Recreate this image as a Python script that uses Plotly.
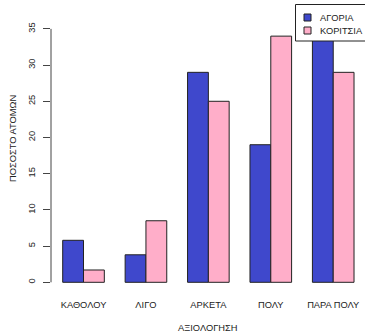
import plotly.graph_objects as go

categories = ["ΚΑΘΟΛΟΥ", "ΛΙΓΟ", "ΑΡΚΕΤΑ", "ΠΟΛΥ", "ΠΑΡΑ ΠΟΛΥ"]
boys = [5.8, 3.8, 29, 19, 36]
girls = [1.7, 8.5, 25, 34, 29]
series_names = ["ΑΓΟΡΙΑ", "ΚΟΡΙΤΣΙΑ"]
series_colors = ["#3f48cc", "#ffaec9"]
y_ticks = [0, 5, 10, 15, 20, 25, 30, 35]

FONT = "Liberation Sans, Arial, sans-serif"
FS = 9.3
INK = "#222222"

W, H = 365, 332
L, R, T, B = 51, 0, 0, 40
PW = W - L - R
PH = H - T - B


def px(x):
    return (x - L) / PW


def py(y):
    return 1 - (y - T) / PH


fig = go.Figure()
for name, vals, col in zip(series_names, [boys, girls], series_colors):
    fig.add_trace(go.Bar(x=categories, y=vals, name=name,
                         marker=dict(color=col, line=dict(color=INK, width=1))))

shapes = [dict(type="line", xref="paper", yref="y", x0=0, x1=0, y0=0, y1=35,
               line=dict(color="#444444", width=1))]
# legend box (drawn manually so it fits the narrow corner like the reference)
shapes.append(dict(type="rect", xref="paper", yref="paper", layer="above",
                   x0=px(295.5), x1=px(366), y0=py(41), y1=py(4.5),
                   fillcolor="white", line=dict(color=INK, width=1)))
annotations = []
for i, (name, col) in enumerate(zip(series_names, series_colors)):
    top = 14 + i * 13
    shapes.append(dict(type="rect", xref="paper", yref="paper", layer="above",
                       x0=px(304), x1=px(311), y0=py(top + 7), y1=py(top),
                       fillcolor=col, line=dict(color=INK, width=1)))
    annotations.append(dict(text=name, xref="paper", yref="paper",
                            x=px(318), y=py(top + 3.7), xanchor="left", yanchor="middle",
                            showarrow=False, font=dict(family=FONT, size=FS, color=INK)))

annotations += [
    dict(text="ΑΞΙΟΛΟΓΗΣΗ", xref="paper", yref="paper",
         x=px(207), y=py(328), xanchor="center", yanchor="middle",
         showarrow=False, font=dict(family=FONT, size=FS, color=INK)),
    dict(text="ΠΟΣΟΣΤΟ ΑΤΟΜΩΝ", xref="paper", yref="paper",
         x=px(13), y=py(139), xanchor="center", yanchor="middle",
         textangle=-90, showarrow=False, font=dict(family=FONT, size=FS, color=INK)),
]

fig.update_layout(
    width=W, height=H,
    margin=dict(l=L, r=R, t=T, b=B, pad=0, autoexpand=False),
    paper_bgcolor="white", plot_bgcolor="white",
    barmode="group", bargap=1/3, bargroupgap=0,
    font=dict(family=FONT, size=FS, color=INK),
    showlegend=False,
    hovermode=False,
    xaxis=dict(type="category", range=[-0.5207, 4.509], showline=False, showgrid=False,
               zeroline=False, ticks="", tickfont=dict(family=FONT, size=FS, color=INK),
               ticklabelstandoff=6),
    yaxis=dict(range=[-1.34, 38.99], showline=False, showgrid=False, zeroline=False,
               tickvals=y_ticks, ticktext=[str(v) for v in y_ticks],
               ticks="outside", ticklen=7, tickcolor="#444444", tickwidth=1,
               tickangle=-90, tickfont=dict(family=FONT, size=FS, color=INK),
               ticklabelstandoff=4),
    shapes=shapes,
    annotations=annotations,
)

fig.write_html("out.html", config={"displayModeBar": False, "staticPlot": True},
               post_script="document.body.style.margin='0';document.body.style.overflow='hidden';")
